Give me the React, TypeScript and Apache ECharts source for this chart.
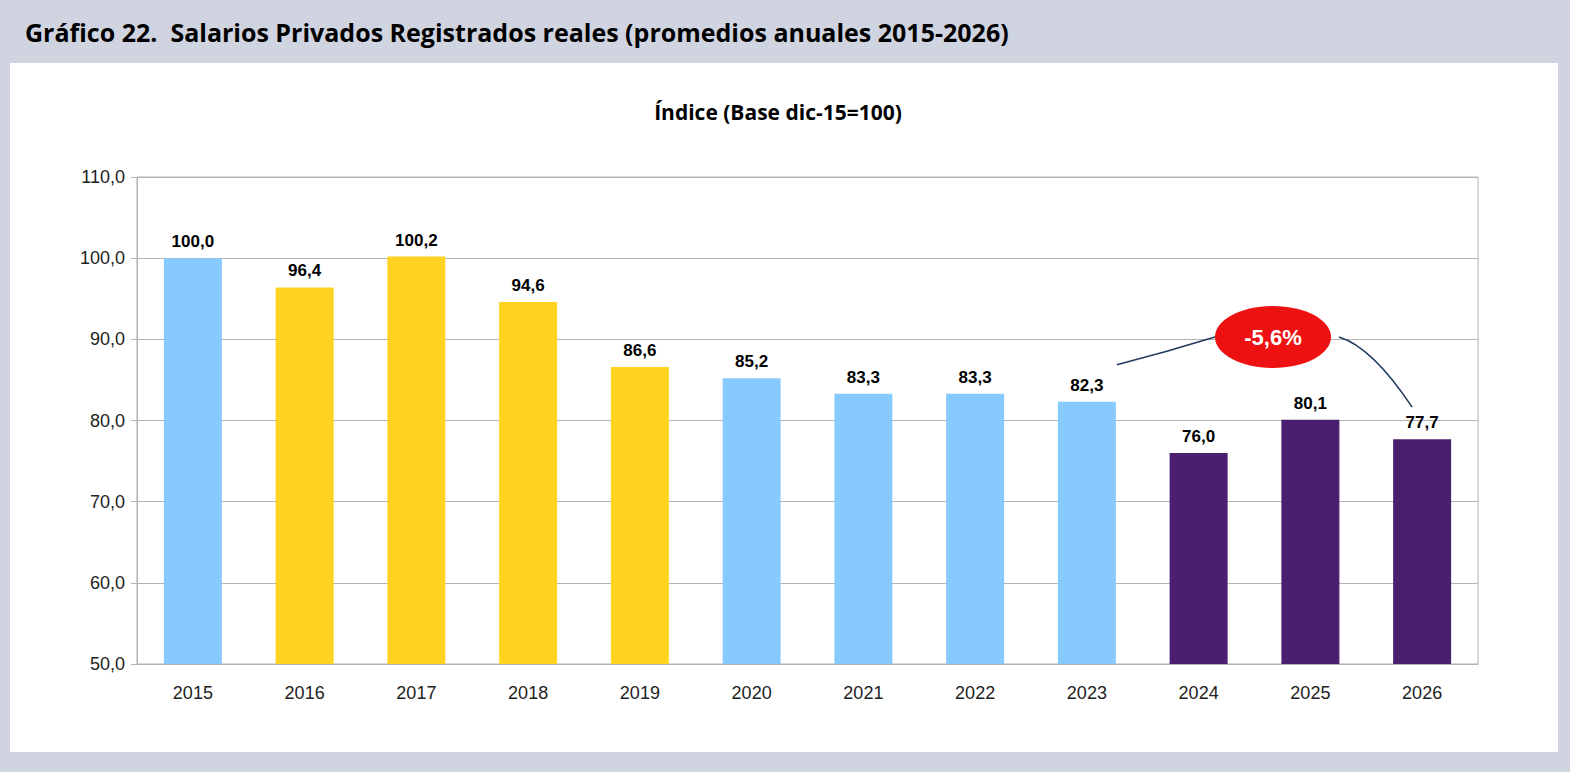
import React, { useEffect, useRef } from 'react';
import * as echarts from 'echarts';

const years = ['2015', '2016', '2017', '2018', '2019', '2020', '2021', '2022', '2023', '2024', '2025', '2026'];
const values = [100.0, 96.4, 100.2, 94.6, 86.6, 85.2, 83.3, 83.3, 82.3, 76.0, 80.1, 77.7];
const colors = ['#87cafe', '#ffd320', '#ffd320', '#ffd320', '#ffd320', '#87cafe', '#87cafe', '#87cafe', '#87cafe', '#4b1f6f', '#4b1f6f', '#4b1f6f'];
const changeLabel = '-5,6%';

const App: React.FC = () => {
  const chartRef = useRef<HTMLDivElement | null>(null);

  useEffect(() => {
    if (!chartRef.current) return;
    const chart = echarts.init(chartRef.current, undefined, { renderer: 'svg' });

    const option: echarts.EChartsOption = {
      animation: false,
      backgroundColor: '#d0d4e0',
      title: [
        {
          text: 'Gráfico 22.  Salarios Privados Registrados reales (promedios anuales 2015-2026)',
          left: 20,
          top: 14,
          textStyle: { fontFamily: 'Open Sans', fontSize: 25, fontWeight: 'bold', color: '#000' },
        },
        {
          text: 'Índice (Base dic-15=100)',
          left: 773,
          textAlign: 'center',
          top: 96,
          textStyle: { fontFamily: 'Open Sans', fontSize: 21, fontWeight: 'bold', color: '#000' },
        },
      ],
      grid: { left: 137, right: 92, top: 177, bottom: 108, show: true, borderColor: '#b3b3b3', borderWidth: 1 },
      xAxis: {
        type: 'category',
        data: years,
        axisLine: { lineStyle: { color: '#b3b3b3' } },
        axisTick: { show: false },
        axisLabel: { color: '#222', fontSize: 18, fontFamily: 'Liberation Sans', margin: 20 },
      },
      yAxis: {
        type: 'value',
        min: 50,
        max: 110,
        interval: 10,
        axisLine: { show: true, lineStyle: { color: '#b3b3b3' } },
        axisTick: { show: true, length: 6, lineStyle: { color: '#b3b3b3' } },
        splitLine: { lineStyle: { color: '#b3b3b3' } },
        axisLabel: {
          color: '#222',
          fontSize: 18,
          fontFamily: 'Liberation Sans',
          margin: 12,
          formatter: (v: number) => v.toFixed(1).replace('.', ','),
        },
      },
      series: [
        {
          type: 'bar',
          barWidth: 58,
          data: values.map((v, i) => ({ value: v, itemStyle: { color: colors[i] } })),
          label: {
            show: true,
            position: 'top',
            distance: 8,
            color: '#000',
            fontSize: 17,
            fontWeight: 'bold',
            fontFamily: 'Liberation Sans',
            formatter: (p: any) => Number(p.value).toFixed(1).replace('.', ','),
          },
        },
      ],
    };
    chart.setOption(option);

    const p2023 = chart.convertToPixel({ seriesIndex: 0 }, [8, 82.3]) as number[];
    const p2026 = chart.convertToPixel({ seriesIndex: 0 }, [11, 77.7]) as number[];
    const cx = 1273;
    const cy = 337;
    chart.setOption({
      graphic: [
        { type: 'rect', shape: { x: 10, y: 63, width: 1548, height: 689 }, style: { fill: '#fff' }, z: -10 },
        {
          type: 'bezierCurve',
          shape: { x1: p2023[0] + 30, y1: p2023[1] - 37, x2: cx - 58, y2: cy, cpx1: p2023[0] + 80, cpy1: p2023[1] - 50 },
          style: { stroke: '#1f3a5a', lineWidth: 1.5, fill: 'none' },
        },
        {
          type: 'bezierCurve',
          shape: { x1: cx + 66, y1: cy, x2: p2026[0] - 10, y2: p2026[1] - 32, cpx1: p2026[0] - 50, cpy1: cy + 10 },
          style: { stroke: '#1f3a5a', lineWidth: 1.5, fill: 'none' },
        },
        {
          type: 'ellipse',
          shape: { cx, cy, rx: 58, ry: 31 },
          style: { fill: '#ee1111' },
        },
        {
          type: 'text',
          x: cx,
          y: cy,
          style: {
            text: changeLabel,
            fill: '#fff',
            fontSize: 22,
            fontWeight: 'bold',
            fontFamily: 'Liberation Sans',
            align: 'center',
            verticalAlign: 'middle',
          },
        },
      ],
    });

    return () => chart.dispose();
  }, []);

  return <div ref={chartRef} style={{ position: 'fixed', left: 0, top: 0, width: 1570, height: 772 }} />;
};

export default App;
